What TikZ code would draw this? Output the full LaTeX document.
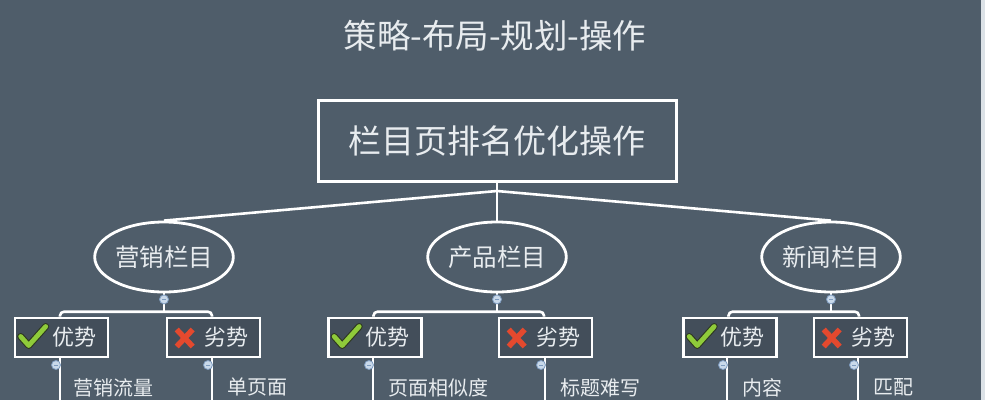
\documentclass[tikz,border=0pt]{standalone}
\usepackage{fontspec}
\newfontfamily\cjk{Noto Sans CJK SC}
\usetikzlibrary{shapes.geometric}
\definecolor{bgc}{HTML}{4F5D6A}
\definecolor{boxfill}{HTML}{434E5A}
\definecolor{txt}{HTML}{E8ECEF}
\definecolor{edgec}{HTML}{DCE2E7}
\definecolor{okgreen}{HTML}{8FCB3A}
\definecolor{okdark}{HTML}{2E3820}
\definecolor{badred}{HTML}{E4492E}
\definecolor{dotc}{HTML}{C9D9EA}
\definecolor{dotb}{HTML}{7E9CC0}
\tikzset{
  wline/.style={draw=white, line width=2.6pt},
  mainbox/.style={draw=white, line width=3pt, fill=bgc, minimum width=358pt, minimum height=81pt, inner sep=0pt, text=txt, font=\cjk\fontsize{33}{33}\selectfont},
  colell/.style={ellipse, draw=white, line width=2.8pt, fill=bgc, minimum width=128pt, minimum height=70pt, inner sep=0pt, text=txt, font=\cjk\fontsize{24.5}{24.5}\selectfont},
  probox/.style={draw=white, line width=2.6pt, fill=boxfill, minimum width=93pt, minimum height=39pt, inner sep=0pt, text=txt, font=\cjk\fontsize{22}{22}\selectfont},
  knob/.style={circle, draw=dotb, line width=0.8pt, fill=dotc, minimum size=9pt, inner sep=0pt},
  leaftext/.style={anchor=north west, inner sep=0pt, text=txt, font=\cjk\fontsize{20}{20}\selectfont},
  titletext/.style={text=txt, font=\cjk\fontsize{33.5}{33.5}\selectfont}
}
\newcommand{\okmark}[1]{%
  \draw[okdark, line width=7pt, line cap=round, line join=round] ([shift={(7,-1)}]#1.west) -- ([shift={(15,8)}]#1.west) -- ([shift={(32,-11)}]#1.west);
  \draw[okgreen, line width=4.8pt, line cap=round, line join=round] ([shift={(7,-1)}]#1.west) -- ([shift={(15,8)}]#1.west) -- ([shift={(32,-11)}]#1.west);}
\newcommand{\badmark}[1]{%
  \draw[badred, line width=5.5pt] ([shift={(11,-8)}]#1.west) -- ([shift={(27,9)}]#1.west);
  \draw[badred, line width=5.5pt] ([shift={(27,-8)}]#1.west) -- ([shift={(11,9)}]#1.west);}
\begin{document}
\begin{tikzpicture}[x=1pt,y=-1pt]
\fill[bgc] (0,0) rectangle (985,400);
\useasboundingbox (0,0) rectangle (985,400);
\fill[edgec] (981,0) rectangle (985,400);
\begin{scope}
\clip (0,0) rectangle (981,400);

\node[titletext] (title) at (495,36) {策略-布局-规划-操作};
\node[mainbox] (main) at (497,141) {栏目页排名优化操作};

\coordinate (split) at (497,191);

\node[colell] (e1) at (164,257) {营销栏目};
\node[colell] (e2) at (497,257) {产品栏目};
\node[colell] (e3) at (831,257) {新闻栏目};

\draw[wline] (main.south) -- (e2.north);
\draw[wline] (split) -- (e1.north);
\draw[wline] (split) -- (e3.north);

% boxes
\node[probox] (g1) at (61.5,337.5) {\hspace{25pt}优势};
\node[probox] (b1) at (213.5,337.5) {\hspace{25pt}劣势};
\node[probox] (g2) at (375,337.5) {\hspace{25pt}优势};
\node[probox] (b2) at (545.5,337.5) {\hspace{25pt}劣势};
\node[probox] (g3) at (730,337.5) {\hspace{25pt}优势};
\node[probox] (b3) at (860.5,337.5) {\hspace{25pt}劣势};

\okmark{g1} \badmark{b1}
\okmark{g2} \badmark{b2}
\okmark{g3} \badmark{b3}

% connectors ellipse -> boxes
\foreach \e/\g/\b in {e1/g1/b1, e2/g2/b2, e3/g3/b3}{
  \draw[wline] (\e.south) -- (\e.south |- 0,313);
  \draw[wline, rounded corners=4pt] ([xshift=-1.5pt]\g.north) -- ++(0,-5) -| ([xshift=-1.5pt]\b.north);
  \node[knob] (k\e) at ([yshift=-6pt]\e.south) {};
  \draw[dotb, line width=0.8pt] ([xshift=-2pt]k\e.center) -- ([xshift=2pt]k\e.center);
}

% bottom lines and leaf texts
\foreach \n/\x in {g1/60, b1/212, g2/373, b2/545, g3/727, b3/858}{
  \coordinate (end\n) at (\x,402);
  \draw[wline] (\x,357) -- (end\n);
  \node[knob] (kb\n) at (\x-4,365) {};
  \draw[dotb, line width=0.8pt] ([xshift=-2pt]kb\n.center) -- ([xshift=2pt]kb\n.center);
}
\node[leaftext] (t1) at (73,378) {营销流量};
\node[leaftext] (t2) at (227,378) {单页面};
\node[leaftext] (t3) at (388,378) {页面相似度};
\node[leaftext] (t4) at (560,378) {标题难写};
\node[leaftext] (t5) at (742,378) {内容};
\node[leaftext] (t6) at (873,378) {匹配};
\end{scope}
\end{tikzpicture}
\end{document}
